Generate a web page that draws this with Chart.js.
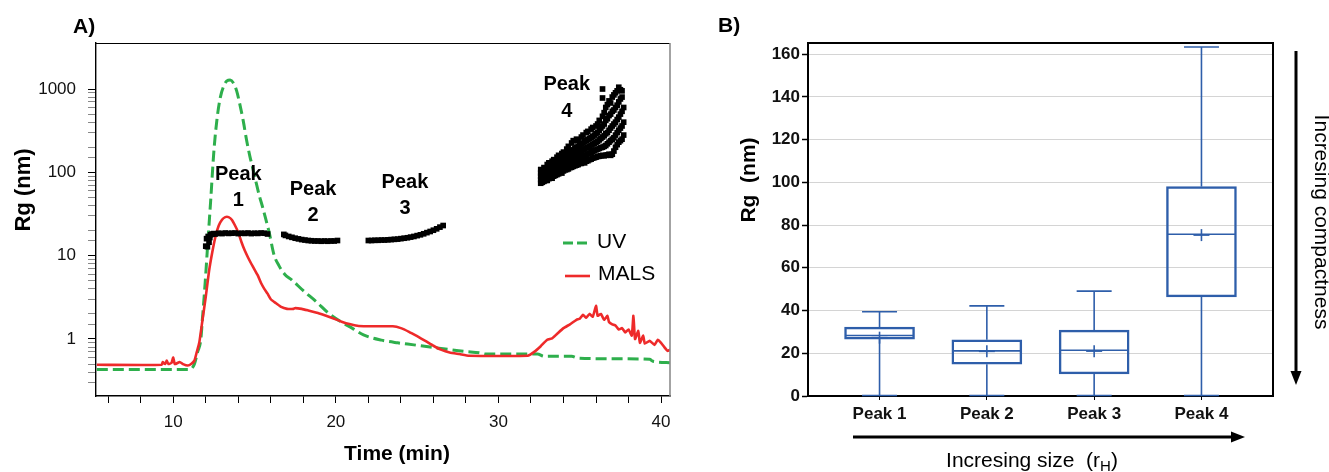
<!DOCTYPE html>
<html>
<head>
<meta charset="utf-8">
<script src="https://cdn.jsdelivr.net/npm/chart.js@4.4.0/dist/chart.umd.min.js"></script>
<style>
    html, body { margin: 0; padding: 0; background: #fff; }
    #wrap { position: relative; width: 1329px; height: 472px; overflow: hidden; }
    .panel { position: absolute; top: 0; height: 472px; }
</style>
</head>
<body>
<div id="wrap">
    <div class="panel" style="left:0;width:690px;"><canvas id="chart-a"></canvas></div>
    <div class="panel" style="left:690px;width:639px;"><canvas id="chart-b"></canvas></div>
</div>
<script>
(function () {
    'use strict';

    const FONT  = '"Liberation Sans", Arial, sans-serif';
    const GREEN = '#2EAF4C';
    const RED   = '#EE2A2A';
    const BLUE  = '#2E5EAA';

    // ---- Panel A: elution profile (log scale) ----
    const timeTicks = [10, 20, 30, 40];
    const rgTicks   = [1, 10, 100, 1000];

    const uvTime  = [5.3, 11.0, 11.3, 11.5, 11.7, 11.8, 11.9, 12.0, 12.1, 12.3, 12.5, 12.7, 12.9, 13.1, 13.3, 13.5,
                     13.7, 13.9, 14.1, 14.3, 14.5, 14.7, 14.9, 15.1, 15.3, 15.5, 15.7, 15.9, 16.2, 16.5, 16.85, 17.3,
                     18.0, 18.8, 19.6, 20.4, 21.0, 21.7, 22.8, 23.8, 24.8, 25.8, 26.9, 27.9, 28.9, 29.2, 30.5, 32.4,
                     32.8, 34.5, 34.9, 37.0, 39.3, 39.5, 40.6];
    const uvValue = [0.43, 0.43, 0.5, 0.7, 1.0, 1.8, 3.2, 6, 12, 45, 180, 450, 800, 1080, 1250, 1280,
                     1180, 950, 650, 420, 250, 160, 110, 75, 52, 38, 27, 19, 10.2, 7.6, 6.0, 5.1,
                     3.8, 2.8, 2.0, 1.57, 1.35, 1.12, 0.97, 0.9, 0.85, 0.8, 0.75, 0.71, 0.68, 0.66, 0.66, 0.66,
                     0.62, 0.62, 0.59, 0.58, 0.57, 0.54, 0.52];

    const malsTime  = [5.3, 9.3, 9.35, 9.5, 9.6, 9.7, 9.9, 10.0, 10.1, 10.4, 10.6, 10.9, 11.1, 11.3, 11.45, 11.6,
                       11.8, 12.0, 12.2, 12.4, 12.6, 12.8, 13.0, 13.2, 13.4, 13.6, 13.8, 14.0, 14.2, 14.4, 14.6, 14.8,
                       15.0, 15.2, 15.4, 15.6, 15.8, 16.0, 16.3, 16.6, 17.0, 17.4, 17.5, 17.9, 18.3, 18.9, 19.4, 19.9,
                       20.4, 20.9, 21.4, 22.5, 23.5, 24.0, 24.5, 25.0, 25.5, 26.0, 26.5, 27.0, 27.6, 28.2, 31.8, 32.2,
                       32.6, 33.0, 33.3, 33.6, 34.0, 34.4, 34.8, 35.0, 35.2, 35.4, 35.6, 35.8, 36.0, 36.1, 36.3, 36.5,
                       36.7, 36.8, 37.0, 37.2, 37.4, 37.6, 37.8, 38.0, 38.2, 38.3, 38.4, 38.6, 38.7, 38.9, 39.0, 39.3,
                       39.6, 39.8, 40.0, 40.2, 40.4, 40.6];
    const malsValue = [0.49, 0.49, 0.53, 0.5, 0.55, 0.5, 0.52, 0.6, 0.5, 0.53, 0.5, 0.48, 0.5, 0.55, 0.7, 0.9,
                       1.7, 3.2, 6.5, 11, 17, 23, 27, 29, 29, 27, 23, 19, 14.5, 11.5, 9.5, 8.0,
                       6.8, 5.8, 4.7, 4.0, 3.5, 3.0, 2.7, 2.45, 2.3, 2.3, 2.35, 2.3, 2.2, 2.05, 1.9, 1.75,
                       1.6, 1.5, 1.43, 1.42, 1.42, 1.35, 1.22, 1.08, 0.95, 0.83, 0.74, 0.69, 0.66, 0.63, 0.63, 0.7,
                       0.82, 0.98, 1.02, 1.15, 1.35, 1.5, 1.7, 1.75, 1.95, 1.8, 2.0, 1.85, 2.5, 1.9, 2.0, 1.7,
                       1.9, 1.6, 1.5, 1.45, 1.3, 1.35, 1.2, 1.3, 1.1, 1.9, 1.0, 1.25, 0.9, 1.1, 0.88, 0.95,
                       0.85, 0.98, 0.9, 0.8, 0.72, 0.75];

    // Rg points of peaks 1-3
    const rgTime  = [12.0, 12.05, 12.1, 12.15, 12.2, 12.25, 12.3, 12.4, 12.5, 12.6, 12.8, 13.0, 13.2, 13.4, 13.6, 13.8,
                     14.0, 14.2, 14.4, 14.6, 14.8, 15.0, 15.2, 15.4, 15.6, 15.8,
                     16.8, 16.9, 17.1, 17.3, 17.5, 17.7, 17.9, 18.1, 18.3, 18.5, 18.7, 18.9, 19.1, 19.3, 19.5, 19.7, 19.9, 20.1,
                     22.0, 22.2, 22.4, 22.6, 22.8, 23.0, 23.2, 23.4, 23.6, 23.8, 24.0, 24.2, 24.4, 24.6, 24.8, 25.0,
                     25.2, 25.4, 25.6, 25.8, 26.0, 26.2, 26.4, 26.6];
    const rgValue = [13, 16, 12.8, 17, 14.5, 16.5, 17.8, 18.2, 18.4, 18.2, 18.6, 18.4, 18.7, 18.5, 18.6, 18.7,
                     18.4, 18.6, 18.5, 18.7, 18.4, 18.6, 18.5, 18.7, 18.6, 18.2,
                     18, 17.5, 17, 16.6, 16.2, 15.9, 15.6, 15.4, 15.2, 15.1, 15, 15, 14.9, 15, 14.9, 15, 15, 15.2,
                     15.2, 15.2, 15.3, 15.3, 15.4, 15.4, 15.5, 15.6, 15.7, 15.8, 16, 16.2, 16.4, 16.7, 17, 17.4,
                     17.8, 18.3, 18.9, 19.5, 20.2, 21, 22, 23];

    // Rg points of peak 4: one time, several readings
    const peak4Time = [32.6, 32.7, 32.8, 32.9, 33.0, 33.1, 33.2, 33.3, 33.4, 33.5, 33.6, 33.7, 33.8, 33.9, 34.0, 34.1,
                       34.2, 34.3, 34.4, 34.5, 34.6, 34.7, 34.8, 34.9, 35.0, 35.1, 35.2, 35.3, 35.4, 35.5, 35.6, 35.7,
                       35.8, 35.9, 36.0, 36.1, 36.2, 36.3, 36.4, 36.5, 36.6, 36.7, 36.8, 36.9, 37.0, 37.1, 37.2, 37.3,
                       37.4, 37.5, 37.6, 37.7];
    const peak4Rg   = [
        [74, 82, 90, 98, 108], [76, 85, 95, 105], [78, 86, 94, 104, 114], [80, 88, 99, 110],
        [80, 90, 100, 112, 124], [84, 93, 104, 118, 130], [86, 96, 108, 122], [85, 95, 106, 120, 136],
        [90, 100, 113, 128, 142], [92, 103, 116, 132], [94, 106, 120, 136, 152], [96, 108, 122, 140, 160],
        [100, 112, 128, 146], [98, 112, 126, 144, 168], [104, 116, 132, 152, 175], [107, 120, 136, 156],
        [108, 122, 140, 162, 190], [110, 125, 144, 168, 205], [114, 130, 150, 175], [115, 132, 152, 180, 225],
        [118, 136, 158, 186, 240], [120, 140, 164, 195], [122, 142, 168, 200, 250], [124, 146, 172, 205, 240],
        [128, 150, 178, 212], [128, 152, 180, 218, 265], [132, 156, 186, 225, 280], [130, 158, 190, 232],
        [136, 162, 196, 240, 300], [138, 166, 200, 248, 310], [142, 170, 206, 255], [144, 174, 212, 262, 330],
        [148, 178, 218, 270, 345], [150, 182, 224, 280], [152, 186, 230, 290, 360], [155, 190, 236, 300, 380],
        [156, 194, 245, 320, 420], [158, 198, 255, 340], [160, 200, 265, 360, 470, 780, 1000], [158, 205, 275, 380, 520],
        [160, 210, 290, 420, 600], [162, 220, 300, 440, 650], [165, 230, 320, 480, 720], [160, 240, 340, 500, 680],
        [165, 250, 360, 540, 800], [180, 260, 380, 560, 850], [200, 280, 400, 600, 900], [215, 300, 430, 640, 950],
        [230, 320, 460, 700, 1050], [240, 340, 500, 760, 980], [250, 360, 540, 800, 950], [280, 400, 600],
    ];

    // ---- Panel B: box plot ----
    const peakNames   = ['Peak 1', 'Peak 2', 'Peak 3', 'Peak 4'];
    const boxTicks    = [0, 20, 40, 60, 80, 100, 120, 140, 160];
    const boxMin      = [0, 0, 0, 0];
    const boxQ1       = [26.6, 14.9, 10.3, 46.4];
    const boxMedian   = [28.3, 21.1, 21.4, 75.7];
    const boxQ3       = [32.2, 26.3, 30.8, 98.0];
    const boxMax      = [39.4, 42.2, 49.1, 163.3];
    const boxMean     = [27.3, 20.9, 21.0, 75.3];

    const pairs = (xs, ys) => xs.map((x, i) => ({ x, y: ys[i] }));
    const near  = (list, v) => list.some(t => Math.abs(t - v) < 1e-6);

    const rgPoints = pairs(rgTime, rgValue)
        .concat(peak4Time.flatMap((t, i) => peak4Rg[i].map(v => ({ x: t, y: v }))));

    // label anchors for the peak notes (data coords of the "Peak" line)
    const peakNotes = [
        { t: 14.0, rg: 94,   num: '1', gap: 26 },
        { t: 18.6, rg: 62,   num: '2', gap: 26 },
        { t: 24.25, rg: 76,  num: '3', gap: 26 },
        { t: 34.2, rg: 1140, num: '4', gap: 27 },
    ];

    function text(ctx, str, x, y, font, align, rot) {
        ctx.save();
        ctx.translate(x, y);
        if (rot) ctx.rotate(rot);
        ctx.font = font;
        ctx.textAlign = align || 'center';
        ctx.textBaseline = 'middle';
        ctx.fillStyle = '#000';
        ctx.fillText(str, 0, 0);
        ctx.restore();
    }

    const decorA = {
        id: 'decorA',
        afterDraw(chart) {
            const { ctx, chartArea: a, scales: { x, y } } = chart;
            ctx.save();
            ctx.strokeStyle = '#000';
            ctx.lineWidth = 1.2;
            ctx.beginPath(); ctx.moveTo(a.left, a.top + 0.5); ctx.lineTo(a.right, a.top + 0.5); ctx.stroke();
            ctx.strokeStyle = '#8c8c8c';
            ctx.lineWidth = 1.6;
            ctx.beginPath(); ctx.moveTo(a.right, a.top); ctx.lineTo(a.right, a.bottom); ctx.stroke();

            peakNotes.forEach(n => {
                const px = x.getPixelForValue(n.t);
                const py = y.getPixelForValue(n.rg);
                text(ctx, 'Peak', px, py, `bold 20px ${FONT}`);
                text(ctx, n.num, px, py + n.gap, `bold 20px ${FONT}`);
            });

            // legend
            ctx.lineWidth = 3;
            ctx.strokeStyle = GREEN;
            ctx.setLineDash([10, 4]);
            ctx.beginPath(); ctx.moveTo(563, 243); ctx.lineTo(589, 243); ctx.stroke();
            ctx.setLineDash([]);
            ctx.strokeStyle = RED;
            ctx.lineWidth = 2.6;
            ctx.beginPath(); ctx.moveTo(565, 276); ctx.lineTo(590, 276); ctx.stroke();
            text(ctx, 'UV', 597, 242, `21px ${FONT}`, 'left');
            text(ctx, 'MALS', 598, 274, `21px ${FONT}`, 'left');

            text(ctx, 'A)', 73, 27, `bold 21px ${FONT}`, 'left');
            text(ctx, 'Rg (nm)', 24, 190, `bold 22px ${FONT}`, 'center', -Math.PI / 2);
            text(ctx, 'Time (min)', 397, 454, `bold 21px ${FONT}`);
            ctx.restore();
        }
    };

    new Chart(document.getElementById('chart-a'), {
        type: 'scatter',
        data: {
            datasets: [
                {
                    label: 'Rg',
                    data: rgPoints,
                    pointStyle: 'rect',
                    pointRadius: 4,
                    pointBorderWidth: 0,
                    backgroundColor: '#000',
                    borderColor: '#000',
                },
                {
                    label: 'MALS',
                    data: pairs(malsTime, malsValue),
                    showLine: true,
                    borderColor: RED,
                    borderWidth: 2.6,
                    pointRadius: 0,
                    tension: 0.15,
                },
                {
                    label: 'UV',
                    data: pairs(uvTime, uvValue),
                    showLine: true,
                    borderColor: GREEN,
                    borderWidth: 3,
                    borderDash: [11, 5],
                    pointRadius: 0,
                    cubicInterpolationMode: 'monotone',
                },
            ],
        },
        options: {
            responsive: true,
            maintainAspectRatio: false,
            animation: false,
            layout: { padding: { left: 0, top: 43, right: 20, bottom: 0 } },
            plugins: { legend: { display: false }, tooltip: { enabled: false } },
            scales: {
                x: {
                    type: 'linear',
                    min: 5.25,
                    max: 40.55,
                    afterFit: s => { s.height = 76; },
                    border: { color: '#000', width: 1.4 },
                    grid: { drawOnChartArea: false, tickLength: 7, tickColor: '#000', tickWidth: 1 },
                    ticks: {
                        stepSize: 2,
                        includeBounds: false,
                        autoSkip: false,
                        maxRotation: 0,
                        padding: 9,
                        color: '#111',
                        font: { family: FONT, size: 17 },
                        callback: v => near(timeTicks, v) ? String(v) : '',
                    },
                },
                y: {
                    type: 'logarithmic',
                    min: 0.207,
                    max: 3565,
                    afterFit: s => { s.width = 96; },
                    afterBuildTicks: s => { s.ticks = s.ticks.filter(t => t.value > 0.25 && t.value < 1001); },
                    border: { color: '#000', width: 1.4 },
                    grid: {
                        drawOnChartArea: false,
                        tickLength: 8,
                        tickWidth: 1,
                        tickColor: c => near(rgTicks, c.tick.value) ? '#000' : '#888',
                    },
                    ticks: {
                        autoSkip: false,
                        padding: 12,
                        color: '#111',
                        font: { family: FONT, size: 17 },
                        callback: v => near(rgTicks, v) ? String(v) : '',
                    },
                },
            },
        },
        plugins: [decorA],
    });

    const decorB = {
        id: 'decorB',
        afterDatasetsDraw(chart) {
            const { ctx, chartArea: a, scales: { x, y } } = chart;
            ctx.save();
            ctx.strokeStyle = BLUE;
            ctx.lineWidth = 1.6;
            const line = (x1, y1, x2, y2) => { ctx.beginPath(); ctx.moveTo(x1, y1); ctx.lineTo(x2, y2); ctx.stroke(); };
            peakNames.forEach((_, i) => {
                const cx = x.getPixelForValue(i + 1);
                const yMin = y.getPixelForValue(boxMin[i]);
                const yQ1  = y.getPixelForValue(boxQ1[i]);
                const yMed = y.getPixelForValue(boxMedian[i]);
                const yQ3  = y.getPixelForValue(boxQ3[i]);
                const yMax = y.getPixelForValue(boxMax[i]);
                const yAvg = y.getPixelForValue(boxMean[i]);
                line(cx, yQ3, cx, yMax);
                line(cx, yQ1, cx, yMin);
                line(cx - 17.5, yMax, cx + 17.5, yMax);
                line(cx - 17.5, yMin - 0.5, cx + 17.5, yMin - 0.5);
                line(cx - 34, yMed, cx + 34, yMed);
                line(cx - 8, yAvg, cx + 8, yAvg);
                line(cx, yAvg - 6, cx, yAvg + 6);
            });

            ctx.strokeStyle = '#000';
            ctx.lineWidth = 2;
            ctx.beginPath();
            ctx.moveTo(a.left, a.top); ctx.lineTo(a.right, a.top); ctx.lineTo(a.right, a.bottom);
            ctx.stroke();
            ctx.restore();
        },
        afterDraw(chart) {
            const { ctx } = chart;
            ctx.save();
            ctx.fillStyle = '#000';
            ctx.strokeStyle = '#000';
            ctx.lineWidth = 3;
            // horizontal arrow
            ctx.beginPath(); ctx.moveTo(163, 437); ctx.lineTo(543, 437); ctx.stroke();
            ctx.beginPath(); ctx.moveTo(555, 437); ctx.lineTo(541, 431.5); ctx.lineTo(541, 442.5); ctx.closePath(); ctx.fill();
            // vertical arrow
            ctx.beginPath(); ctx.moveTo(606, 51); ctx.lineTo(606, 374); ctx.stroke();
            ctx.beginPath(); ctx.moveTo(606, 385); ctx.lineTo(600.5, 371); ctx.lineTo(611.5, 371); ctx.closePath(); ctx.fill();

            text(ctx, 'B)', 28, 26, `bold 21px ${FONT}`, 'left');
            text(ctx, 'Rg  (nm)', 59, 180, `bold 21px ${FONT}`, 'center', -Math.PI / 2);
            text(ctx, 'Incresing compactness', 631, 222, `21px ${FONT}`, 'center', Math.PI / 2);

            // "Incresing size  (rH)" with subscript
            const main = `21px ${FONT}`, sub = `15px ${FONT}`;
            ctx.font = main;
            const w1 = ctx.measureText('Incresing size  (r').width;
            const w3 = ctx.measureText(')').width;
            ctx.font = sub;
            const w2 = ctx.measureText('H').width;
            const left = 342 - (w1 + w2 + w3) / 2;
            ctx.textBaseline = 'alphabetic';
            ctx.textAlign = 'left';
            ctx.font = main;
            ctx.fillText('Incresing size  (r', left, 467);
            ctx.font = sub;
            ctx.fillText('H', left + w1, 471);
            ctx.font = main;
            ctx.fillText(')', left + w1 + w2, 467);
            ctx.restore();
        }
    };

    new Chart(document.getElementById('chart-b'), {
        type: 'bar',
        data: {
            datasets: [{
                label: 'Rg',
                data: boxQ1.map((q, i) => ({ x: i + 1, y: [q, boxQ3[i]] })),
                backgroundColor: 'rgba(0,0,0,0)',
                borderColor: BLUE,
                borderWidth: 1.8,
                borderSkipped: false,
                barThickness: 70,
                grouped: false,
            }],
        },
        options: {
            responsive: true,
            maintainAspectRatio: false,
            animation: false,
            layout: { padding: { left: 0, top: 43, right: 56, bottom: 0 } },
            plugins: { legend: { display: false }, tooltip: { enabled: false } },
            scales: {
                x: {
                    type: 'linear',
                    min: 1 / 3,
                    max: 14 / 3,
                    offset: false,
                    afterFit: s => { s.height = 76; },
                    border: { color: '#000', width: 2 },
                    grid: { offset: false, drawOnChartArea: false, tickLength: 4, tickColor: '#000' },
                    ticks: {
                        stepSize: 1,
                        includeBounds: false,
                        autoSkip: false,
                        maxRotation: 0,
                        padding: 4,
                        color: '#111',
                        font: { family: FONT, size: 17, weight: 'bold' },
                        callback: v => peakNames[Math.round(v) - 1] || '',
                    },
                },
                y: {
                    min: 0,
                    max: 165.2,
                    beginAtZero: true,
                    afterFit: s => { s.width = 118; },
                    afterBuildTicks: s => { s.ticks = boxTicks.map(v => ({ value: v })); },
                    border: { color: '#000', width: 2 },
                    grid: { color: '#d4d4d4', lineWidth: 1, tickLength: 6, tickColor: '#000', tickWidth: 1.5 },
                    ticks: {
                        padding: 2,
                        color: '#111',
                        font: { family: FONT, size: 17, weight: 'bold' },
                    },
                },
            },
        },
        plugins: [decorB],
    });
})();
</script>
</body>
</html>
